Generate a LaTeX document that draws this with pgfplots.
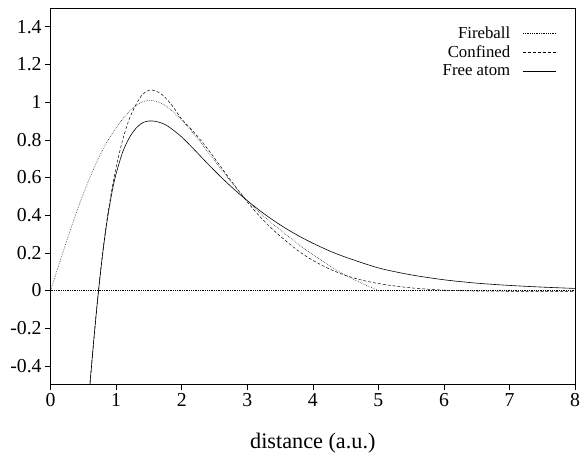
\documentclass[border=0pt]{standalone}
\usepackage{fontspec}
\setmainfont{Liberation Serif}
\usepackage{pgfplots}
\pgfplotsset{compat=1.18}

\begin{document}
\begin{tikzpicture}
\begin{axis}[
  scale only axis, width=529bp, height=380bp,
  xmin=0, xmax=8, ymin=-0.5, ymax=1.5,
  xtick={0,1,2,3,4,5,6,7,8},
  ytick={-0.4,-0.2,0,0.2,0.4,0.6,0.8,1,1.2,1.4},
  tick pos=left, tick align=outside,
  major tick length=5.5bp,
  tick style={black, line width=0.6pt},
  axis line style={line width=0.8pt},
  /pgf/number format/assume math mode=true,
  tick label style={font=\fontsize{20}{22}\selectfont},
  xlabel={distance (a.u.)},
  xlabel style={font=\fontsize{22.5}{25}\selectfont, yshift=-19bp},
  legend style={draw=none, fill=none, at={(0.970,0.962)}, anchor=north east,
    font=\fontsize{17}{19}\selectfont, legend cell align=right, row sep=2bp},
  legend plot pos=right,
  legend image code/.code={\path[draw=none] (0bp,0bp) -- (1bp,0bp); \draw[#1] (11bp,0bp) -- (44bp,0bp);},
  clip=true,
]
\addplot[black, line width=0.5pt, dash pattern=on 0.6pt off 1.2pt, smooth] coordinates {
(0,0) (0.2,0.215) (0.4,0.42) (0.6,0.6) (0.8,0.75) (1.0,0.865) (1.2,0.95) (1.35,0.993)
(1.5,1.01) (1.65,1.0) (1.8,0.97) (2.0,0.905) (2.2,0.825) (2.4,0.735) (2.6,0.645)
(2.8,0.558) (3.0,0.478) (3.2,0.41) (3.4,0.35) (3.6,0.295) (3.8,0.24) (4.0,0.19)
(4.2,0.145) (4.4,0.1) (4.6,0.063) (4.8,0.03) (5.0,0)
};
\addlegendentry{Fireball}
\addplot[black, line width=0.5pt, dash pattern=on 3pt off 2pt, smooth] coordinates {
(0.55,-0.7) (0.60,-0.5) (0.65,-0.30) (0.70,-0.11) (0.75,0.06) (0.80,0.215) (0.85,0.35)
(0.90,0.465) (0.95,0.565) (1.0,0.655) (1.1,0.8) (1.2,0.91) (1.3,0.985) (1.4,1.04)
(1.5,1.063) (1.6,1.06) (1.7,1.04) (1.8,1.005) (1.9,0.96) (2.0,0.91) (2.2,0.835)
(2.4,0.75) (2.6,0.655) (2.8,0.56) (3.0,0.47) (3.2,0.39) (3.4,0.32) (3.6,0.26)
(3.8,0.205) (4.0,0.16) (4.25,0.115) (4.5,0.08) (4.75,0.055) (5.0,0.037) (5.25,0.024)
(5.5,0.014) (5.75,0.007) (6.0,0.002) (6.5,-0.003) (7,-0.004) (8,-0.004)
};
\addlegendentry{Confined}
\addplot[black, line width=0.6pt, smooth] coordinates {
(0.55,-0.7) (0.60,-0.5) (0.65,-0.30) (0.70,-0.11) (0.75,0.06) (0.80,0.21) (0.85,0.34)
(0.90,0.45) (0.95,0.545) (1.0,0.62) (1.1,0.735) (1.2,0.81) (1.3,0.86) (1.4,0.89)
(1.5,0.90) (1.6,0.898) (1.7,0.888) (1.8,0.87) (2.0,0.815) (2.2,0.745) (2.4,0.672)
(2.6,0.602) (2.8,0.537) (3.0,0.477) (3.2,0.422) (3.4,0.372) (3.6,0.327) (3.8,0.287)
(4.0,0.251) (4.25,0.211) (4.5,0.177) (5.0,0.12) (5.5,0.083) (6.0,0.057) (6.5,0.039)
(7.0,0.027) (7.5,0.018) (8.0,0.011)
};
\addlegendentry{Free atom}
\addplot[black, line width=0.4pt, dash pattern=on 0.6pt off 1.2pt, forget plot] coordinates {(0,0) (8,0)};
\end{axis}
\pgfresetboundingbox
\path (current axis.south west) ++(-51bp,-68bp);
\path (current axis.north east) ++(8bp,8bp);
\end{tikzpicture}
\end{document}
